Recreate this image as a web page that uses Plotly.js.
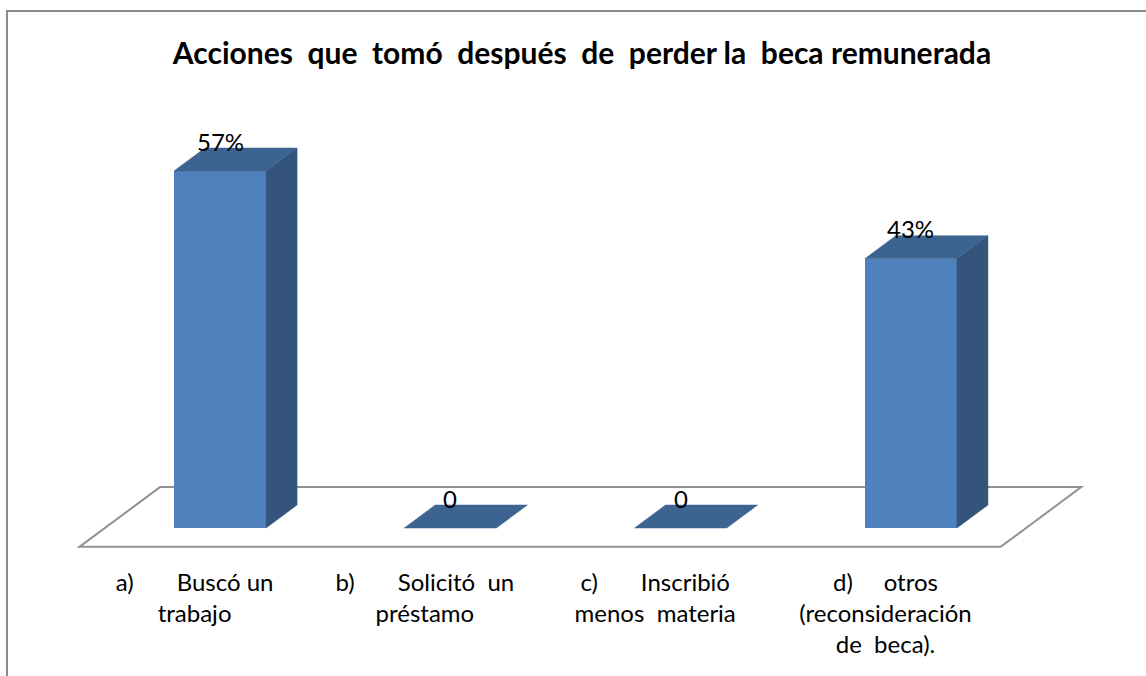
<!DOCTYPE html>
<html><head><meta charset="utf-8">
<script src="https://cdn.plot.ly/plotly-3.0.1.min.js"></script>
<style>
html,body{margin:0;padding:0;background:#fff;}
#wrap{position:relative;width:1146px;height:676px;overflow:hidden;}
#chart{width:1146px;height:676px;}
#frame{position:absolute;left:6px;top:10px;width:1200px;height:720px;border-left:2px solid #8c8c8c;border-top:2px solid #8c8c8c;pointer-events:none;}
</style>
</head><body>
<div id="wrap"><div id="chart"></div><div id="frame"></div></div>
<script>
// ---- data ----
const chartTitle = 'Acciones  que  tomó  después  de  perder la  beca remunerada';
const categories = [
  'a)       Buscó un\ntrabajo',
  'b)       Solicitó  un\npréstamo',
  'c)       Inscribió\nmenos  materia',
  'd)     otros\n(reconsideración\nde  beca).'
];
const values = [57, 0, 0, 43];
const valueLabels = ['57%', '0', '0', '43%'];

// ---- style / geometry ----
const FONT = 'Lato, "Open Sans", sans-serif';
const COL_FRONT = '#4F81BD', COL_TOP = '#3D6391', COL_SIDE = '#34547C', COL_FLOOR = '#929292';
const BAR_W = 0.4;          // in category units
const DX = 0.1346, DY = 3.67; // oblique depth vector of one bar depth (x units, y units)
const FRONT_GAP = 0.82, BACK_GAP = 0.78; // floor margins in bar depths

const nb = s => s.replace(/ /g, '\u00A0').replace(/\n/g, '<br>');

const traces = [];
// fronts as bars
traces.push({type:'bar', x: values.map((_, i) => i), y: values, width: BAR_W,
  marker:{color: COL_FRONT, line:{width:0}}, hoverinfo:'skip', showlegend:false});
values.forEach((v, i) => {
  const xl = i - BAR_W/2, xr = i + BAR_W/2;
  // side face
  if (v > 0) traces.push({type:'scatter', mode:'lines', fill:'toself', fillcolor: COL_SIDE,
    line:{width:0.5, color: COL_SIDE}, hoverinfo:'skip', showlegend:false,
    x:[xr, xr+DX, xr+DX, xr, xr], y:[0, DY, v+DY, v, 0]});
  // top face
  traces.push({type:'scatter', mode:'lines', fill:'toself', fillcolor: COL_TOP,
    line:{width:0.5, color: COL_TOP}, hoverinfo:'skip', showlegend:false,
    x:[xl, xr, xr+DX, xl+DX, xl], y:[v, v, v+DY, v+DY, v]});
});

// floor (y = 0 plane)
const n = categories.length;
const fx0 = -0.5 - FRONT_GAP*DX, fx1 = n - 0.5 - FRONT_GAP*DX, fy = -FRONT_GAP*DY;
const bx0 = -0.5 + (1+BACK_GAP)*DX, bx1 = n - 0.5 + (1+BACK_GAP)*DX, by = (1+BACK_GAP)*DY;
const floorPath = `M${fx0},${fy} L${fx1},${fy} L${bx1},${by} L${bx0},${by} Z`;

const annotations = values.map((v, i) => ({x:i, y:v, text: valueLabels[i], showarrow:false,
  yanchor:'middle', yshift:30, font:{family: FONT, size:24, color:'#000'}}));

const layout = {
  width:1146, height:676, paper_bgcolor:'#fff', plot_bgcolor:'rgba(0,0,0,0)',
  margin:{l:35, r:30, t:80, b:120},
  title:{text: nb(chartTitle), font:{family: FONT, size:30, color:'#000', weight:'bold'},
    xref:'container', x:582/1146, xanchor:'center', yref:'container', y:1-53/676, yanchor:'middle'},
  xaxis:{range:[-0.8033, 3.8906], tickmode:'array',
    tickvals: categories.map((_, i) => i - FRONT_GAP*DX), ticktext: categories.map(nb),
    showgrid:false, zeroline:false, showline:false, ticks:'outside', ticklen:5,
    tickcolor:'rgba(0,0,0,0)', tickfont:{family: FONT, size:24, color:'#000'}, fixedrange:true},
  yaxis:{range:[-4.47, 71.53], visible:false, fixedrange:true},
  shapes:[{type:'path', path: floorPath, xref:'x', yref:'y', layer:'below',
    line:{color: COL_FLOOR, width:2}, fillcolor:'rgba(0,0,0,0)'}],
  annotations, showlegend:false, bargap:0
};
Plotly.newPlot('chart', traces, layout, {displayModeBar:false, staticPlot:true});
</script>
</body></html>
